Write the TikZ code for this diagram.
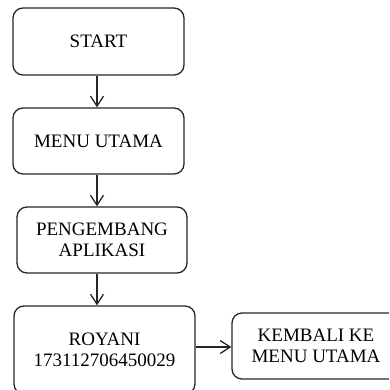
\documentclass[tikz,border=0pt]{standalone}
\usepackage{fontspec}
\setmainfont{Liberation Serif}
\usetikzlibrary{arrows.meta}
\begin{document}
\begin{tikzpicture}[x=1pt,y=-1pt,
  box/.style={draw=black!85, line width=1.3pt, rounded corners=10pt, align=center,
    inner sep=0pt, font=\fontsize{19}{21}\selectfont},
  arr/.style={draw=black!85, line width=1.3pt, -{Straight Barb[length=10pt,width=13pt,line width=1.3pt]}}]
\useasboundingbox (0,0) rectangle (389,390);
\clip (0,0) rectangle (389,390);
\node[box, minimum width=171pt, minimum height=67pt] (start) at (98.5,41.5) {START};
\node[box, minimum width=171pt, minimum height=66pt] (menu) at (98.5,141) {MENU UTAMA};
\node[box, minimum width=170pt, minimum height=66pt] (peng) at (102,240) {PENGEMBANG\\APLIKASI};
\node[box, minimum width=181pt, minimum height=88pt] (roy) at (104.5,350) {ROYANI\\173112706450029};
\node[box, minimum width=168pt, minimum height=66pt] (kem) at (316,346) {KEMBALI KE\\MENU UTAMA};
\coordinate (ax) at (97,0);
\coordinate (ay) at (0,347);
\draw[arr] (start.south -| ax) -- (menu.north -| ax);
\draw[arr] (menu.south -| ax) -- (peng.north -| ax);
\draw[arr] (peng.south -| ax) -- (roy.north -| ax);
\draw[arr] (roy.east |- ay) -- (kem.west |- ay);
\end{tikzpicture}
\end{document}
